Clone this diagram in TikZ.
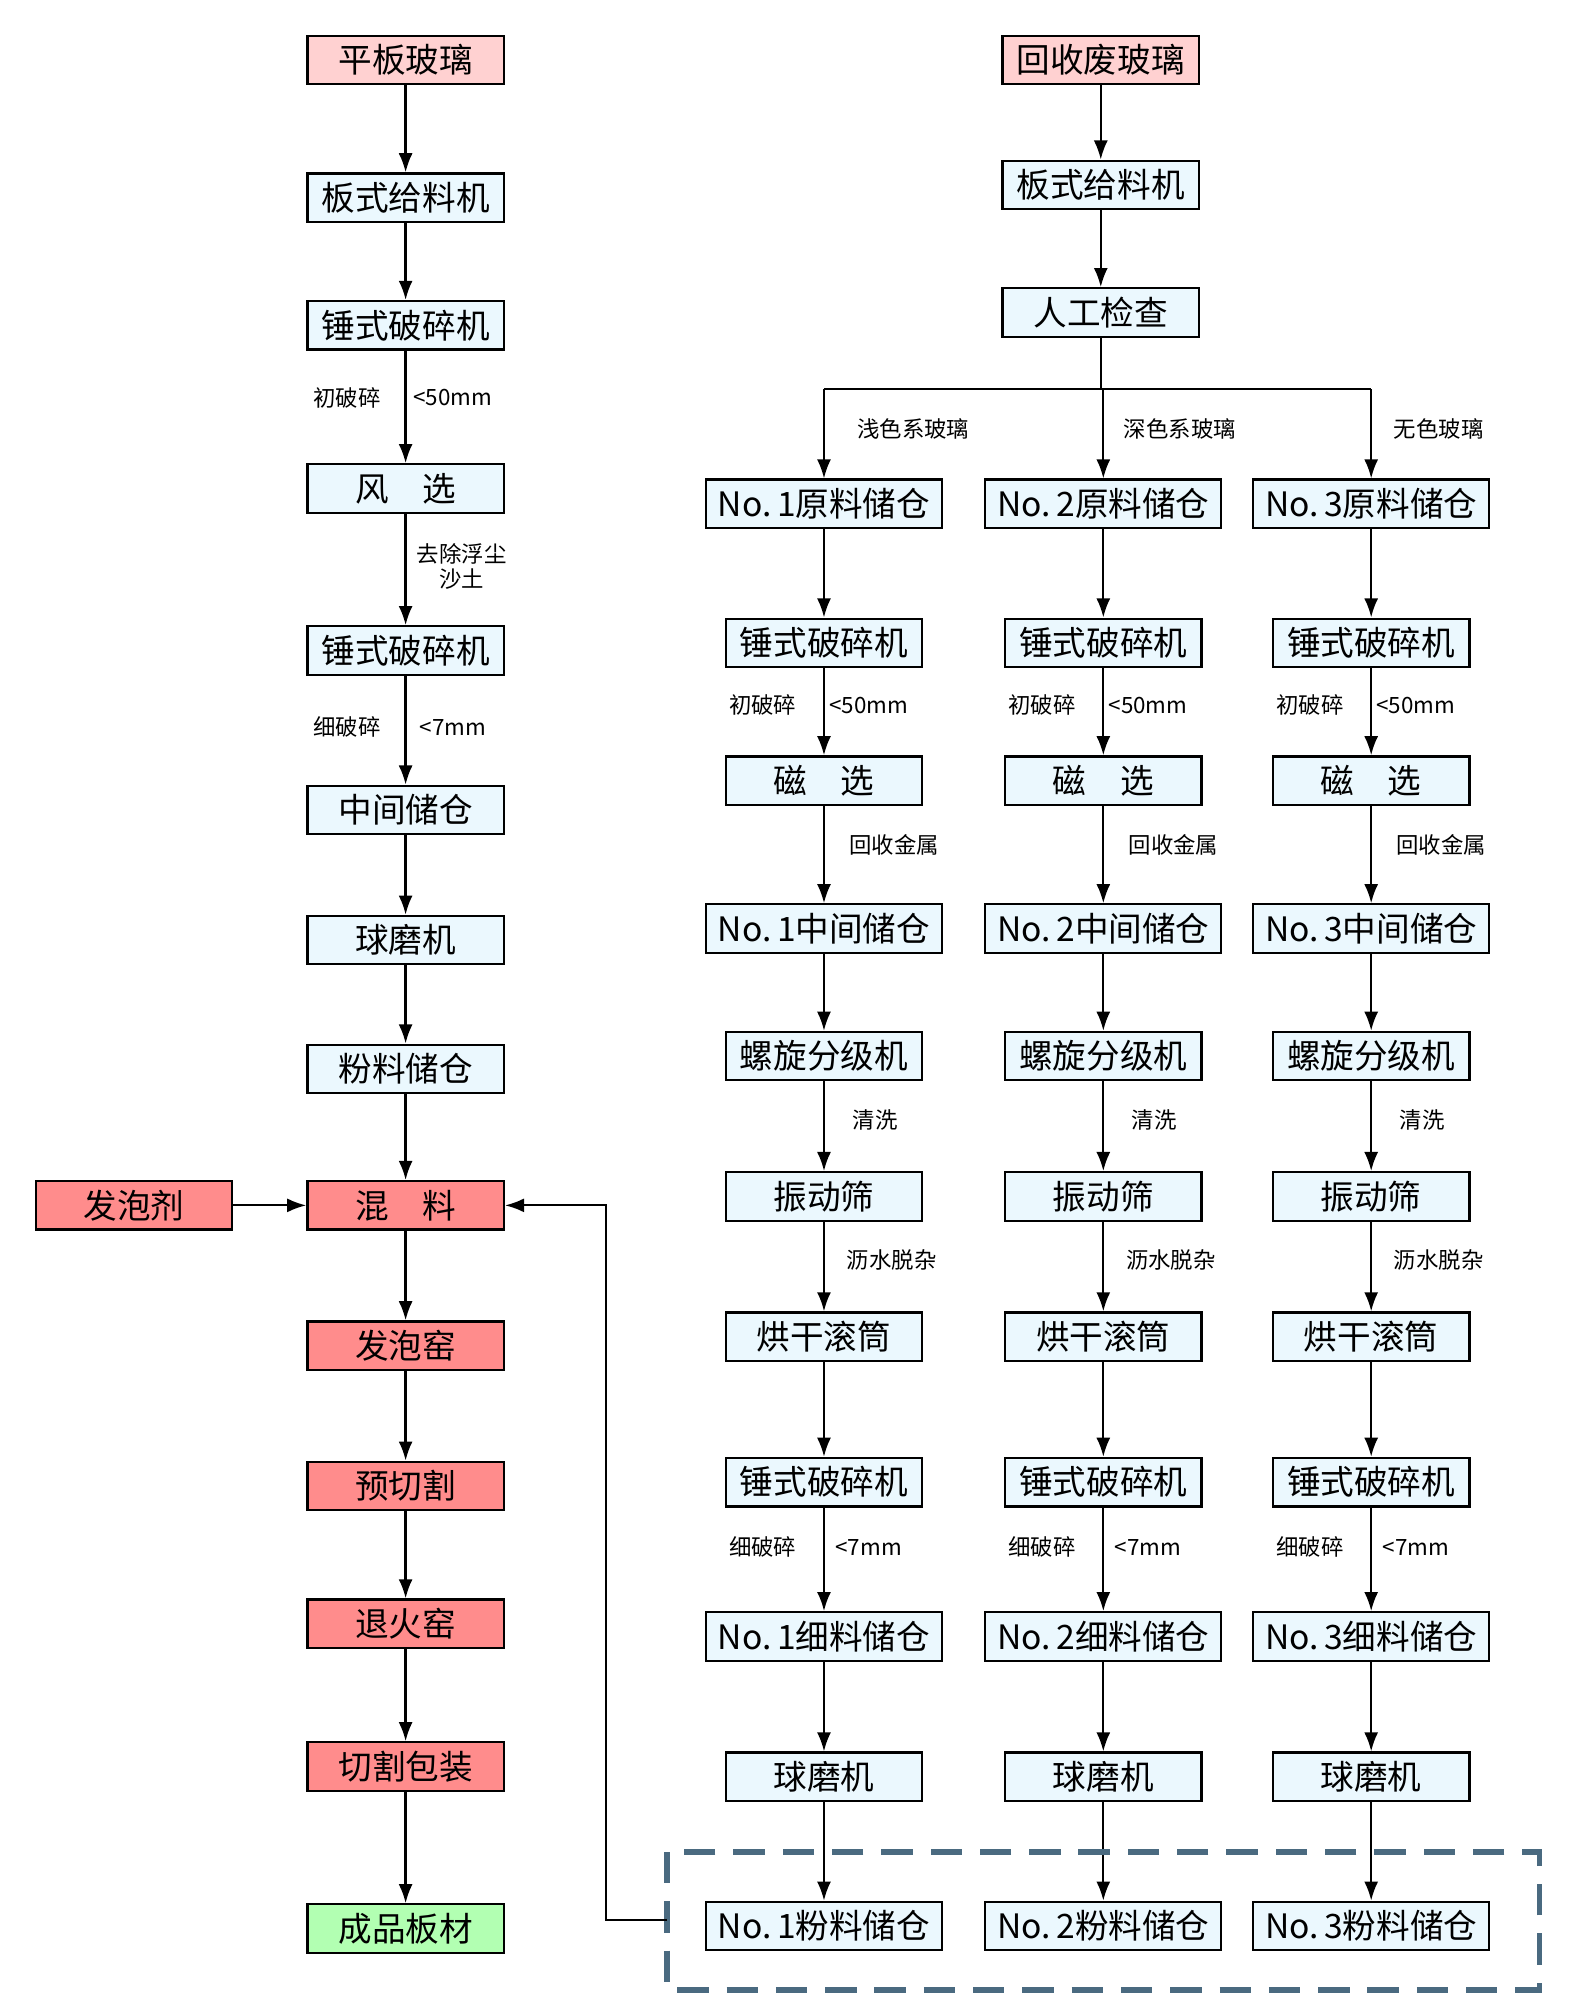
\documentclass[tikz,border=0pt]{standalone}
\usepackage{fontspec}
\setmainfont{Noto Sans CJK SC}
\usetikzlibrary{arrows.meta}
\tikzset{
  box/.style={draw, line width=1pt, minimum width=3.08cm, minimum height=0.76cm, inner sep=1pt, font=\fontsize{15}{15}\selectfont},
  wide/.style={box, minimum width=3.7cm},
  blue/.style={fill=cyan!8!white},
  red/.style={fill=red!45!white},
  pinkish/.style={fill=red!18!white},
  greenish/.style={fill=green!30!white},
  lab/.style={font=\fontsize{10}{11}\selectfont, align=center},
  flow/.style={-{Latex[length=3mm,width=2.2mm]}, line width=1pt}
}
\begin{document}
\begin{tikzpicture}[x=0.02cm, y=-0.02cm]
\useasboundingbox (0,0) rectangle (1230,1568);

% left line
\node[box,pinkish] (p1) at (318,47) {平板玻璃};
\node[box,blue] (p2) at (318,155) {板式给料机};
\node[box,blue] (p3) at (318,255) {锤式破碎机};
\node[box,blue] (p4) at (318,383) {风\quad 选};
\node[box,blue] (p5) at (318,510) {锤式破碎机};
\node[box,blue] (p6) at (318,635) {中间储仓};
\node[box,blue] (p7) at (318,737) {球磨机};
\node[box,blue] (p8) at (318,838) {粉料储仓};
\node[box,red] (p9) at (318,945) {混\quad 料};
\node[box,red] (p10) at (318,1055) {发泡窑};
\node[box,red] (p11) at (318,1165) {预切割};
\node[box,red] (p12) at (318,1273) {退火窑};
\node[box,red] (p13) at (318,1385) {切割包装};
\node[box,greenish] (p14) at (318,1512) {成品板材};
\node[box,red] (agent) at (105,945) {发泡剂};
\foreach \a/\b in {1/2,2/3,3/4,4/5,5/6,6/7,7/8,8/9,9/10,10/11,11/12,12/13,13/14}
  \draw[flow] (p\a) -- (p\b);
\draw[flow] (agent) -- (p9);
\node[lab] at (272,312) {初破碎};
\node[lab] at (355,312) {<50mm};
\node[lab] at (362,444) {去除浮尘\\沙土};
\node[lab] at (272,570) {细破碎};
\node[lab] at (355,570) {<7mm};

% right line
\node[box,pinkish] (r1) at (863,47) {回收废玻璃};
\node[box,blue] (r2) at (863,145) {板式给料机};
\node[box,blue] (r3) at (863,245) {人工检查};
\draw[flow] (r1) -- (r2);
\draw[flow] (r2) -- (r3);
\coordinate (fork) at (863,305);
\draw[line width=1pt] (r3) -- (fork);
\draw[line width=1pt] (646,305) -- (1075,305);
\node[lab] at (716,336) {浅色系玻璃};
\node[lab] at (925,336) {深色系玻璃};
\node[lab] at (1128,336) {无色玻璃};

\foreach \i/\x in {1/646,2/865,3/1075} {
  \node[wide,blue] (a\i) at (\x,395) {No.\,\i 原料储仓};
  \node[box,blue] (b\i) at (\x,504) {锤式破碎机};
  \node[box,blue] (c\i) at (\x,612) {磁\quad 选};
  \node[wide,blue] (d\i) at (\x,728) {No.\,\i 中间储仓};
  \node[box,blue] (e\i) at (\x,828) {螺旋分级机};
  \node[box,blue] (f\i) at (\x,938) {振动筛};
  \node[box,blue] (g\i) at (\x,1048) {烘干滚筒};
  \node[box,blue] (h\i) at (\x,1162) {锤式破碎机};
  \node[wide,blue] (k\i) at (\x,1283) {No.\,\i 细料储仓};
  \node[box,blue] (m\i) at (\x,1393) {球磨机};
  \node[wide,blue] (n\i) at (\x,1510) {No.\,\i 粉料储仓};
  \draw[flow] (\x,305) -- (a\i);
  \foreach \u/\v in {a/b,b/c,c/d,d/e,e/f,f/g,g/h,h/k,k/m,m/n}
    \draw[flow] (\u\i) -- (\v\i);
  \node[lab] at (\x-48,553) {初破碎};
  \node[lab] at (\x+35,553) {<50mm};
  \node[lab] at (\x+55,662) {回收金属};
  \node[lab] at (\x+40,878) {清洗};
  \node[lab] at (\x+53,988) {沥水脱杂};
  \node[lab] at (\x-48,1213) {细破碎};
  \node[lab] at (\x+35,1213) {<7mm};
}

% powder silos group
\draw[dashed, line width=2.5pt, color={rgb,255:red,74;green,106;blue,128}, dash pattern=on 14pt off 8pt]
  (523,1452) rectangle (1207,1560);
\coordinate (back) at (475,1505);
\draw[flow] (523,1505) -- (back) |- (p9);
\end{tikzpicture}
\end{document}
